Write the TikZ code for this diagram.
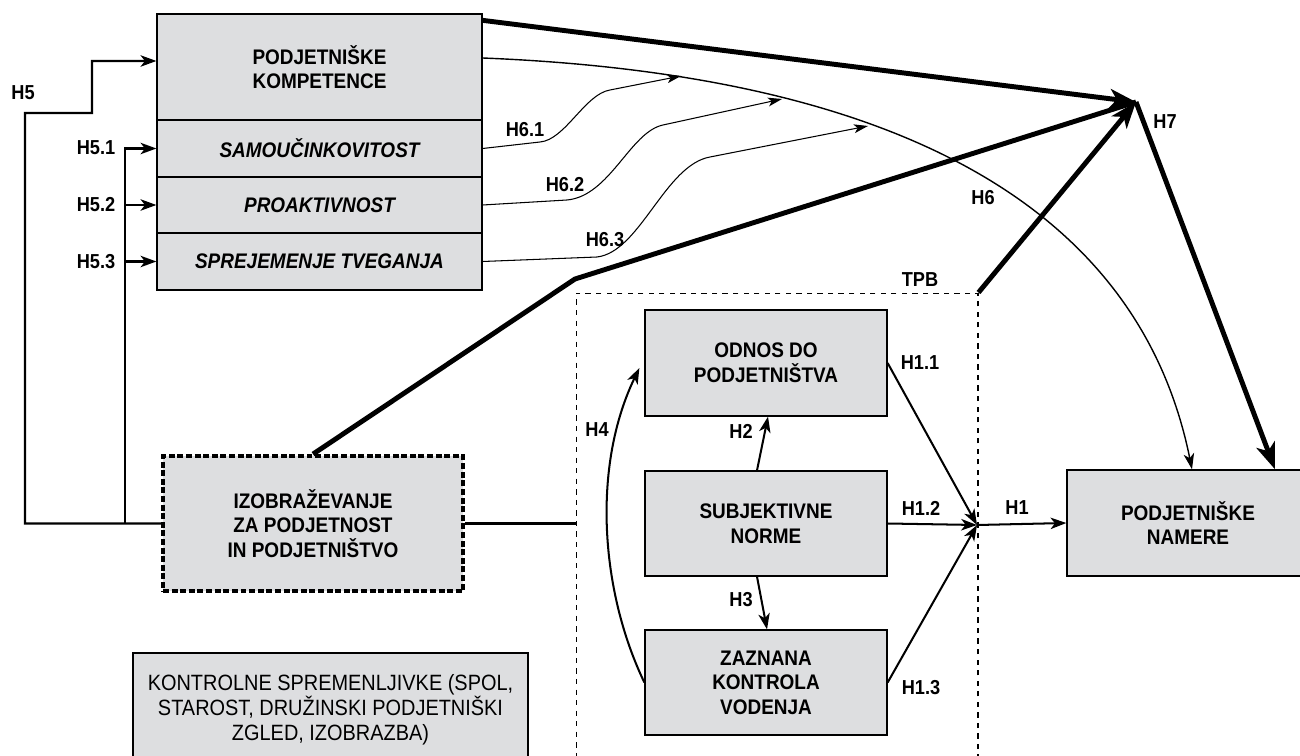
\documentclass[tikz,border=0pt]{standalone}
\usepackage{fontspec}
\setmainfont{Liberation Sans}[FakeStretch=0.9]
\usetikzlibrary{arrows.meta,calc}
\definecolor{boxgray}{RGB}{221,222,224}
\begin{document}
\begin{tikzpicture}[x=0.02cm,y=-0.02cm,
    box/.style={draw,line width=0.75pt,fill=boxgray,align=center,inner sep=0pt,font=\bfseries\fontsize{12}{14}\selectfont},
    lbl/.style={font=\bfseries\fontsize{11.5}{13}\selectfont},
    arr/.style={line width=1.15pt,-{Stealth[length=9pt,width=6.5pt,inset=2.5pt]}},
    big/.style={line width=2.8pt,-{Stealth[length=15pt,width=11pt,inset=4pt]}},
    thin/.style={line width=0.6pt,-{Stealth[length=8pt,width=5pt,inset=2pt]}}]
\useasboundingbox (0,0) rectangle (1300,756);

% kompetence
\node[box,minimum width=6.5cm,minimum height=2.12cm] (komp) at (319.5,67) {PODJETNIŠKE\\KOMPETENCE};
\node[box,font=\bfseries\itshape\fontsize{12}{14}\selectfont,minimum width=6.5cm,minimum height=1.14cm] (samo) at (319.5,148.5) {SAMOUČINKOVITOST};
\node[box,font=\bfseries\itshape\fontsize{12}{14}\selectfont,minimum width=6.5cm,minimum height=1.12cm] (proa) at (319.5,205) {PROAKTIVNOST};
\node[box,font=\bfseries\itshape\fontsize{12}{14}\selectfont,minimum width=6.5cm,minimum height=1.14cm] (sprej) at (319.5,261.5) {SPREJEMENJE TVEGANJA};

\node[box,line width=2.2pt,dash pattern=on 3.4pt off 1.5pt,minimum width=6cm,minimum height=2.7cm] (izob) at (313,523.5) {IZOBRAŽEVANJE\\ZA PODJETNOST\\IN PODJETNIŠTVO};
\node[box,font=\fontsize{12.6}{14.2}\selectfont,minimum width=7.9cm,minimum height=2.28cm] (kont) at (330.5,710) {KONTROLNE SPREMENLJIVKE (SPOL,\\STAROST, DRUŽINSKI PODJETNIŠKI\\ZGLED, IZOBRAZBA)};

% TPB
\node[draw,dashed,line width=0.6pt,minimum width=8.04cm,minimum height=9.94cm] (tpb) at (777,541.5) {};
\node[lbl] (tpblbl) at (920,280) {TPB};
\node[box,minimum width=4.84cm,minimum height=2.12cm] (odn) at (766,363) {ODNOS DO\\PODJETNIŠTVA};
\node[box,minimum width=4.84cm,minimum height=2.1cm] (subj) at (766,523.5) {SUBJEKTIVNE\\NORME};
\node[box,minimum width=4.84cm,minimum height=2.1cm] (zak) at (766,682.5) {ZAZNANA\\KONTROLA\\VODENJA};
\node[box,minimum width=4.84cm,minimum height=2.12cm] (nam) at (1188,523) {PODJETNIŠKE\\NAMERE};

\coordinate (junc) at (977,525);
\coordinate (h7) at (1136,102);
\coordinate (bend) at (575,279);
\coordinate (split) at (125,523.5);
\coordinate (h61) at (681,76);
\coordinate (h62) at (782,99);
\coordinate (h63) at (868,126);

% H5
\draw[arr] (izob.west) -- (25,523.5) -- (25,113) -- (92,113) -- (92,61) -- ([yshift=0.12cm]komp.west);
\draw[arr] (split) |- (samo.west);
\draw[arr] (split |- proa.west) -- (proa.west);
\draw[arr] (split |- sprej.west) -- (sprej.west);
\node[lbl] (h5) at (23,93) {H5};
\node[lbl] (h51) at (96,148) {H5.1};
\node[lbl] (h52) at (96,205) {H5.2};
\node[lbl] (h53) at (96,262) {H5.3};
\draw[line width=1.15pt] (izob.east) -- (izob -| tpb.west);

% H6
\draw[line width=0.8pt,-{Stealth[length=9pt,width=6pt,inset=2.5pt]}] ([yshift=0.18cm]komp.east) .. controls (882,74) and (1137,198) .. ([xshift=0.04cm]nam.north west -| 1190,0);
\draw[thin] (samo.east) -- (540,142) .. controls (565,140) and (585,94) .. (610,90) -- (h61);
\draw[thin] (proa.east) -- (567,200) .. controls (610,196) and (630,132) .. (663,125) -- (h62);
\draw[thin] (sprej.east) -- (597,257) .. controls (640,252) and (665,165) .. (710,157) -- (h63);
\node[lbl] (h6) at (983,198) {H6};
\node[lbl] (h6a) at (525,130) {H6.1};
\node[lbl] (h6b) at (565,185) {H6.2};
\node[lbl] (h6c) at (605,240) {H6.3};

% H7
\draw[big] ([yshift=-0.14cm]komp.north east) -- (h7);
\draw[line width=2.8pt] (izob.north) -- (bend) -- (h7);
\draw[big] (tpb.north east) -- (h7);
\draw[big] (h7) -- ($(nam.north)+(87,0)$);
\node[lbl] (h7lbl) at (1165,122) {H7};

% TPB arrows
\draw[arr] (odn.east) -- (junc);
\draw[arr] (subj.east) -- (junc);
\draw[arr] (zak.east) -- (junc);
\draw[arr] (junc) -- (nam.west);
\draw[arr] ([xshift=-0.18cm]subj.north) -- ([xshift=0.04cm]odn.south);
\draw[arr] ([xshift=-0.18cm]subj.south) -- ([xshift=0.02cm]zak.north);
\draw[arr] (zak.west) .. controls (600,590) and (592,466) .. ([xshift=-0.1cm,yshift=-0.1cm]odn.west);
\node[lbl] (h11) at (920,363) {H1.1};
\node[lbl] (h12) at (921,508) {H1.2};
\node[lbl] (h13) at (921,688) {H1.3};
\node[lbl] (h1) at (1017,508) {H1};
\node[lbl] (h2) at (741,431) {H2};
\node[lbl] (h3) at (741,600) {H3};
\node[lbl] (h4) at (597,430) {H4};
\end{tikzpicture}
\end{document}
